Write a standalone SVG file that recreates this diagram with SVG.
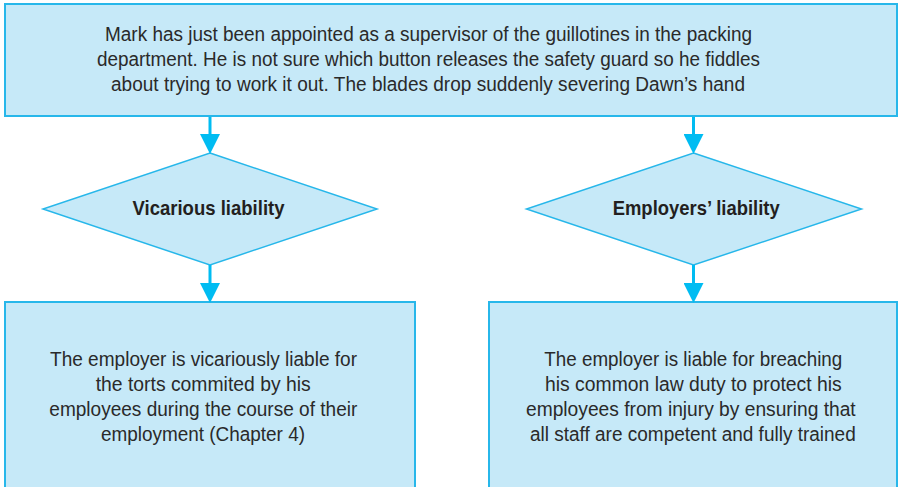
<svg xmlns="http://www.w3.org/2000/svg" width="898" height="487" viewBox="0 0 898 487">
  <style>
    .box { fill: #c6e9f8; stroke: #27b7ea; stroke-width: 2; }
    .dia { fill: #c6e9f8; stroke: #27b7ea; stroke-width: 1.5; }
    .txt { font-family: "Liberation Sans Narrow", "Liberation Sans", Arial, sans-serif; font-size: 20px; fill: #2a2a2a; }
    .lbl { font-family: "Liberation Sans Narrow", "Liberation Sans", Arial, sans-serif; font-size: 21px; font-weight: bold; fill: #231f20; }
    .conn { stroke: #00bcf2; stroke-width: 3; fill: none; }
  </style>
  <defs>
    <marker id="arrow" markerUnits="userSpaceOnUse" markerWidth="20" markerHeight="20" refX="0" refY="9.5" orient="auto" viewBox="0 0 19 19">
      <path d="M0,0 L19,9.5 L0,19 Z" fill="#00bcf2"/>
    </marker>
  </defs>
  <rect width="898" height="487" fill="#ffffff"/>

  <g id="node-scenario">
    <rect class="box" x="5" y="4" width="892" height="112"/>
    <text class="txt" x="105" y="41" textLength="647" lengthAdjust="spacingAndGlyphs">Mark has just been appointed as a supervisor of the guillotines in the packing</text>
    <text class="txt" x="97" y="66" textLength="663" lengthAdjust="spacingAndGlyphs">department. He is not sure which button releases the safety guard so he fiddles</text>
    <text class="txt" x="111" y="91" textLength="634" lengthAdjust="spacingAndGlyphs">about trying to work it out. The blades drop suddenly severing Dawn’s hand</text>
  </g>

  <g id="node-vicarious">
    <polygon class="dia" points="210,153 377,209 210,265 43,209"/>
    <text class="lbl" x="132.5" y="215" textLength="152" lengthAdjust="spacingAndGlyphs">Vicarious liability</text>
  </g>

  <g id="node-employers">
    <polygon class="dia" points="693.5,153 861.5,209 693.5,265 526.5,209"/>
    <text class="lbl" x="612.7" y="215" textLength="167" lengthAdjust="spacingAndGlyphs">Employers’ liability</text>
  </g>

  <g id="node-vicarious-result">
    <rect class="box" x="5" y="302" width="410" height="200"/>
    <text class="txt" x="50" y="366" textLength="307" lengthAdjust="spacingAndGlyphs">The employer is vicariously liable for</text>
    <text class="txt" x="95.7" y="391" textLength="215" lengthAdjust="spacingAndGlyphs">the torts commited by his</text>
    <text class="txt" x="49.3" y="416" textLength="308" lengthAdjust="spacingAndGlyphs">employees during the course of their</text>
    <text class="txt" x="101" y="441" textLength="204" lengthAdjust="spacingAndGlyphs">employment (Chapter 4)</text>
  </g>

  <g id="node-employers-result">
    <rect class="box" x="489" y="302" width="408" height="200"/>
    <text class="txt" x="544.3" y="366" textLength="298" lengthAdjust="spacingAndGlyphs">The employer is liable for breaching</text>
    <text class="txt" x="545" y="391" textLength="296.7" lengthAdjust="spacingAndGlyphs">his common law duty to protect his</text>
    <text class="txt" x="526" y="416" textLength="329.7" lengthAdjust="spacingAndGlyphs">employees from injury by ensuring that</text>
    <text class="txt" x="530" y="441" textLength="325.7" lengthAdjust="spacingAndGlyphs">all staff are competent and fully trained</text>
  </g>

  <g id="connectors">
    <line class="conn" x1="210" y1="117" x2="210" y2="134" marker-end="url(#arrow)"/>
    <line class="conn" x1="693.5" y1="117" x2="693.5" y2="134" marker-end="url(#arrow)"/>
    <line class="conn" x1="210" y1="265" x2="210" y2="283" marker-end="url(#arrow)"/>
    <line class="conn" x1="693.5" y1="265" x2="693.5" y2="283" marker-end="url(#arrow)"/>
  </g>
</svg>
